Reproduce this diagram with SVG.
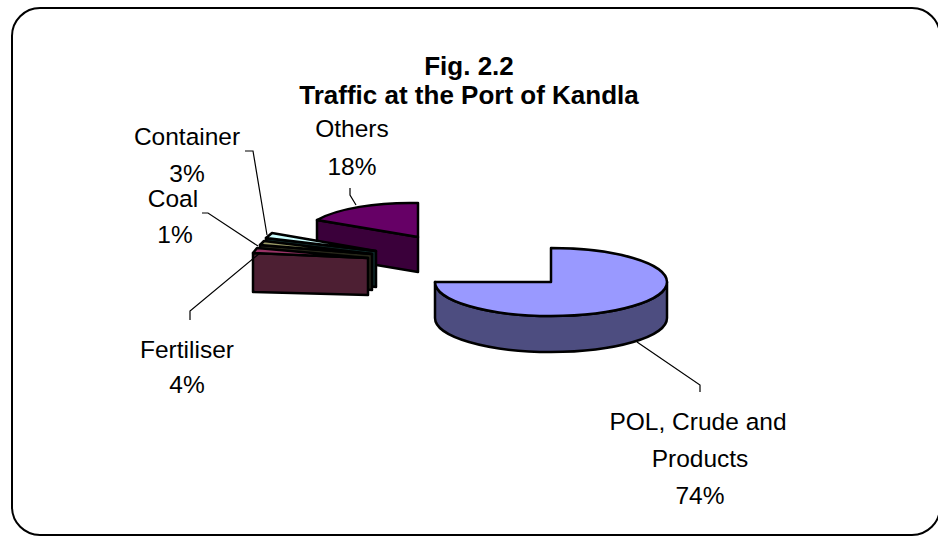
<svg xmlns="http://www.w3.org/2000/svg" width="938" height="536" viewBox="0 0 938 536">
<style>
.t{font-family:"Liberation Sans",Arial,sans-serif;font-size:24.5px;fill:#000;text-anchor:middle}
.h{font-family:"Liberation Sans",Arial,sans-serif;font-size:26px;font-weight:bold;fill:#000;text-anchor:middle}
.s{stroke:#000;stroke-width:2.5;stroke-linejoin:round}
.l{fill:none;stroke:#000;stroke-width:1.2}
</style>
<rect x="12" y="8" width="928" height="527" rx="28" ry="28" fill="#fff" stroke="#000" stroke-width="2"/>
<g id="title">
<text class="h" x="469" y="75">Fig. 2.2</text>
<text class="h" x="469" y="104">Traffic at the Port of Kandla</text>
</g>
<g id="pol">
<path class="s" d="M435,282 L435,318 A116,34 0 0 0 667,318 L667,282 A116,34 0 0 1 435,282 Z" fill="#4D4D80"/>
<path class="s" d="M551,282 L435,282 A116,34 0 1 0 551,248 Z" fill="#9999FF"/>
</g>
<g id="others">
<path class="s" d="M317,220 L418,237 L418,272 L317,255 Z" fill="#3A003A"/>
<path class="s" d="M418,237 L317,220 A106,33 0 0 1 418,203 Z" fill="#660066"/>
</g>
<g id="container">
<path class="s" d="M266,238 L376,251 L376,287 L266,274 Z" fill="#0F2A2A"/>
<path class="s" d="M376,251 L266,238 L272,233 Z" fill="#CCFFFF"/>
</g>
<g id="coal">
<path class="s" d="M260,245 L372,254 L372,290 L260,281 Z" fill="#262619"/>
<path class="s" d="M372,254 L260,245 L264,241 Z" fill="#999966"/>
</g>
<g id="fertiliser">
<path class="s" d="M253,253 L368,258 L368,295 L253,292 Z" fill="#4D1F33"/>
<path class="s" d="M368,258 L253,253 L257,248 Z" fill="#993366"/>
</g>
<g id="connectors">
<polyline class="l" points="245,151 253,151 267,235"/>
<polyline class="l" points="202,213 208,213 258,246"/>
<polyline class="l" points="190,320 190,311 260,253"/>
<polyline class="l" points="350,188 350,195 356,205"/>
<polyline class="l" points="637,342 700,385 700,392"/>
</g>
<g id="labels">
<text class="t" x="187" y="145">Container</text>
<text class="t" x="187" y="182">3%</text>
<text class="t" x="173" y="207">Coal</text>
<text class="t" x="175" y="243">1%</text>
<text class="t" x="352" y="137">Others</text>
<text class="t" x="352" y="175">18%</text>
<text class="t" x="187" y="358">Fertiliser</text>
<text class="t" x="187" y="393">4%</text>
<text class="t" x="698" y="430">POL, Crude and</text>
<text class="t" x="700" y="467">Products</text>
<text class="t" x="700" y="504">74%</text>
</g>
</svg>
